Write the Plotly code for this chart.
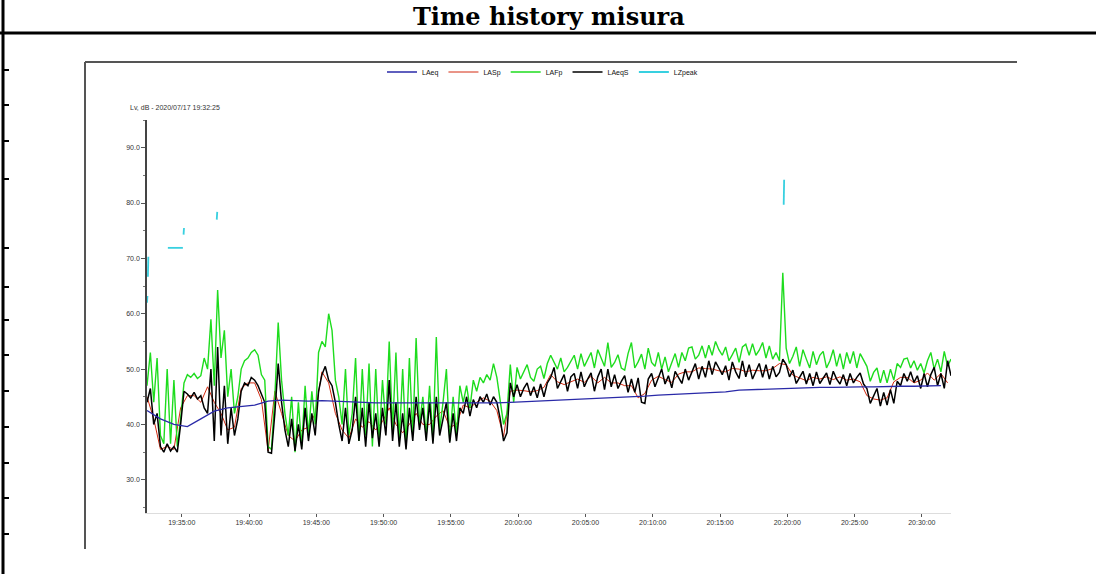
import pandas as pd
import plotly.graph_objects as go

# ---------------- data ----------------
START = "2020-07-17 19:32:25"
END = "2020-07-17 20:32:10"

# 15 s samples
green_lafp = [
    47, 53, 44, 52, 38, 36.5, 50, 36.5, 48, 36,
    41, 47.5, 49, 48.5, 49.2, 48.3, 48.8, 52, 50, 59,
    47, 64.3, 52, 57, 45, 50, 42, 45, 50, 51.5,
    52, 53, 53.5, 52.5, 49, 48, 36, 35.5, 45, 58.4,
    48, 42, 38, 45, 35, 44, 36, 47, 38, 46,
    40, 53, 55, 54, 60, 57, 48, 45, 40, 50,
    38, 42, 52, 37, 50, 38, 51, 36, 50, 37,
    48, 40, 55, 39, 53, 37, 50, 36, 52, 38,
    55.6, 40, 45, 38, 47, 37, 55.8, 39, 44, 50,
    37, 45, 38, 47, 44, 47, 43, 48, 46, 48.5,
    47.5, 49, 48, 51, 48.5, 44.5, 40, 42, 50.8, 44,
    50.3, 48.2, 49.5, 50.8, 48.5, 47.8, 50, 50.5, 48.3, 51,
    52.5, 51.2, 50, 52, 49.5, 50.3, 51.5, 52.5, 50, 52.8,
    50.5, 51.8, 53, 50.2, 53.5, 52, 50.5, 54.8, 50.3, 51.2,
    52.6, 50.2, 49.8, 52.8, 54.8, 50.2, 51.3, 52.7, 50, 53.8,
    51.2, 50.5, 53, 50, 52.2, 49.5, 51, 52.8, 50.3, 53,
    51.5, 53.8, 54, 51.8, 52.5, 54.2, 52, 54.3, 52.5, 55,
    53.5, 52.5, 54, 51.5, 52.6, 53.8, 51.2, 54, 54.5, 52.5,
    54.6, 52.5, 53.4, 54.8, 52, 54.2, 51.8, 53, 51.5, 67.4,
    53.8, 51, 52.3, 54, 50.5, 53.5, 51.8, 50.2, 53.2, 50.8,
    52.5, 53.2, 50.2, 51.5, 53.5, 50.5, 52.8, 50, 53, 51,
    53.2, 50.2, 52.8, 51.6, 50.5, 47.8, 49.4, 50.2, 47.5, 49.8,
    47.5, 50, 48, 51, 50.3, 51.8, 52, 50.2, 51.5, 49.8,
    51, 49.3, 51.5, 53, 50, 51.8, 49.5, 53.2, 50.5, 51.8,
]

black_laeqs = [
    44, 46.5, 40, 42, 36, 35, 36.5, 35.2, 36, 35,
    40, 46, 45.5, 44.8, 45.8, 44.6, 45.2, 43, 42, 50,
    37, 54, 38, 47, 36.5, 43, 38, 41, 46, 47.5,
    47, 48.5, 48, 47, 45.5, 44, 35, 34.8, 42, 51,
    44, 39, 36, 41, 35.2, 40, 35.5, 43, 37, 42,
    38, 46, 49, 50.5, 48, 47, 44, 40, 37, 43,
    36.5, 39, 45, 37, 43, 36, 44, 37.5, 42, 36,
    43, 38, 48, 37, 44, 36, 42, 35.5, 43, 37,
    45, 39, 43, 37, 44, 36.5, 45, 38, 41, 44,
    36.7, 42, 37, 43, 42, 45, 41.5, 44.5, 43, 45,
    44, 45.5, 43.5, 45, 44, 41, 37, 38.5, 47.5, 45,
    47.2, 45, 46.5, 47.5, 45.2, 46.8, 44.8, 47.3, 45, 47.5,
    48.5, 50.3, 46.5, 47.8, 49, 46, 48.6, 49.2, 46.5, 49.5,
    46.8, 48.2, 49.3, 46, 48.6, 50, 46.3, 50, 46.8, 49,
    46.5, 47.8, 48.8, 45.8, 48.2, 45.8, 48.4, 44, 43.8, 48.2,
    49.2, 46.8, 48.5, 50, 47.3, 48.8, 46.6, 49.6, 48.5, 47.4,
    50, 48, 49.5, 51, 48.2, 50.5, 48.5, 51.5, 49, 51.3,
    50.2, 49, 50.6, 48, 51.3, 49.5, 48.3, 51.5, 48.6, 50.8,
    48.2, 49.6, 51, 48.5, 50.8, 48.2, 50.5, 48.6, 49.4, 51.8,
    50.8, 48.6, 49.8, 47.4, 48.6, 49.6, 47.3, 49.2, 47, 49.5,
    47.4, 48.4, 49.3, 47.2, 49.6, 48.2, 47.3, 49, 47, 49.2,
    47.5, 48.5, 49.3, 47.3, 46.5, 43.8, 45.2, 46.5, 43.3, 45.8,
    43.5, 46.3, 43.8, 47.8, 47, 49.2, 47.8, 49.5, 47.6, 48.8,
    46.5, 49.2, 46.8, 49, 50.3, 47, 49.2, 46.5, 51.5, 48.8,
]

# 30 s samples
red_lasp = [
    45, 41, 35.5, 36, 35.5, 43, 45.2, 45.2, 44, 46.8,
    44, 42, 39, 39.5, 46.5, 47.5, 47.5, 44.5, 35.2, 46,
    42, 38, 37, 39, 39.5, 42, 49.5, 47.5, 42, 39,
    37.5, 41, 39.5, 40.5, 39, 40.5, 43, 40, 38.5, 40,
    42, 40, 40, 41.5, 42.5, 39.5, 40, 43.5, 43, 44,
    44.8, 44.2, 42.5, 37.8, 46, 46.2, 46.1, 45.9, 46.1, 46.7,
    49, 47.7, 47.2, 47.7, 48.2, 47.6, 48.7, 47.5, 48.5, 47.5,
    47.5, 47, 47, 44.8, 45.6, 48, 48.7, 48.1, 47.6, 49.1,
    49.5, 49.5, 50.2, 50.1, 50, 49.7, 49.5, 50.1, 50, 49.5,
    49.8, 49.7, 49.7, 50.1, 51, 50.8, 48.9, 48.4, 47.9, 48.5,
    48.2, 48.6, 48.1, 48.6, 48, 48.2, 47.7, 45.2, 44.6, 44.4,
    44.8, 47.7, 48.5, 48.5, 47.5, 48, 49.3, 48, 49.2, 47.5,
]

# 60 s samples
blue_laeq = [
    42.5, 41, 40, 39.6, 41, 42.4, 43, 43.2, 43.5, 44.2,
    44.4, 44.3, 44.2, 44.3, 44.2, 44.0, 44.0, 43.9, 43.9, 43.9,
    43.8, 43.8, 43.8, 43.8, 43.9, 43.9, 43.9, 44.0, 44.1, 44.2,
    44.3, 44.4, 44.5, 44.7, 44.8, 44.9, 45.0, 45.1, 45.3, 45.4,
    45.5, 45.6, 45.7, 45.9, 46.2, 46.3, 46.4, 46.5, 46.6, 46.6,
    46.7, 46.7, 46.8, 46.8, 46.8, 46.9, 46.9, 46.9, 47.0, 47.0,
]

# sparse LZpeak segments (None = gap)
lz_times = [
    "19:32:25", "19:32:27", "19:32:28", "19:32:29", "19:32:31", "19:32:32",
    "19:33:58", "19:35:05", "19:35:06", "19:35:08", "19:35:10", "19:35:11",
    "19:37:36", "19:37:38", "19:37:39", "20:19:44", "20:19:46",
]
lz_peak = [
    62.0, 63.2, None, 66.7, 70.3, None,
    71.9, 71.9, None, 74.3, 75.5, None,
    77.0, 78.4, None, 79.7, 84.2,
]

x_ticks = ["19:35:00", "19:40:00", "19:45:00", "19:50:00", "19:55:00", "20:00:00",
           "20:05:00", "20:10:00", "20:15:00", "20:20:00", "20:25:00", "20:30:00"]
y_ticks = [30, 40, 50, 60, 70, 80, 90]
y_ticktext = ["30.0", "40.0", "50.0", "60.0", "70.0", "80.0", "90.0"]

series_names = ["LAeq", "LASp", "LAFp", "LAeqS", "LZpeak"]

t15 = pd.date_range(START, periods=len(green_lafp), freq="15s")
t30 = pd.date_range(START, periods=len(red_lasp), freq="30s")
t60 = pd.date_range(START, periods=len(blue_laeq), freq="60s")
tlz = ["2020-07-17 " + t for t in lz_times]
tick_dates = ["2020-07-17 " + t for t in x_ticks]

# ---------------- layout helpers ----------------
W, H = 1096, 574
L, R, T, B = 147, 145, 120, 61
PW, PH = W - L - R, H - T - B


def fx(px):
    return (px - L) / PW


def fy(py):
    return (H - B - py) / PH


fig = go.Figure()
fig.add_trace(go.Scatter(x=t30, y=red_lasp, mode="lines", name=series_names[1],
                         line=dict(color="#d42a10", width=1.0), legendrank=2))
fig.add_trace(go.Scatter(x=t15, y=green_lafp, mode="lines", name=series_names[2],
                         line=dict(color="#1edc1e", width=1.4), legendrank=3))
fig.add_trace(go.Scatter(x=t15, y=black_laeqs, mode="lines", name=series_names[3],
                         line=dict(color="#000000", width=1.5), legendrank=4))
fig.add_trace(go.Scatter(x=t60, y=blue_laeq, mode="lines", name=series_names[0],
                         line=dict(color="#2a2aa8", width=1.3), legendrank=1))
fig.add_trace(go.Scatter(x=tlz, y=lz_peak, mode="lines", name=series_names[4],
                         connectgaps=False,
                         line=dict(color="#38d0e0", width=1.8), legendrank=5))

shapes = []
# document table frame
shapes.append(dict(type="line", xref="paper", yref="paper", x0=fx(3), x1=fx(3),
                   y0=fy(0), y1=fy(H), line=dict(color="black", width=3)))
shapes.append(dict(type="line", xref="paper", yref="paper", x0=fx(0), x1=fx(W),
                   y0=fy(33), y1=fy(33), line=dict(color="black", width=3)))
for yy in [70, 105, 141, 179, 248, 287, 320, 355, 391, 427, 463, 498, 534]:
    shapes.append(dict(type="line", xref="paper", yref="paper", x0=fx(3), x1=fx(9),
                       y0=fy(yy), y1=fy(yy), line=dict(color="black", width=2)))
# embedded picture border
shapes.append(dict(type="line", xref="paper", yref="paper", x0=fx(85), x1=fx(85),
                   y0=fy(62), y1=fy(549), line=dict(color="#555555", width=2)))
shapes.append(dict(type="line", xref="paper", yref="paper", x0=fx(85), x1=fx(1017),
                   y0=fy(62), y1=fy(62), line=dict(color="#555555", width=2)))

annotations = [
    dict(text="<b>Time history misura</b>", xref="paper", yref="paper",
         x=fx(549), y=fy(16), xanchor="center", yanchor="middle", showarrow=False,
         font=dict(family="DejaVu Serif", size=24, color="black")),
    dict(text="Lv, dB - 2020/07/17 19:32:25", xref="paper", yref="paper",
         x=fx(128), y=fy(107), xanchor="left", yanchor="middle", showarrow=False,
         font=dict(family="Liberation Sans", size=7, color="#333333")),
]

fig.update_layout(
    width=W, height=H,
    margin=dict(l=L, r=R, t=T, b=B, pad=0),
    paper_bgcolor="white", plot_bgcolor="white",
    shapes=shapes, annotations=annotations,
    showlegend=True,
    legend=dict(orientation="h", x=fx(382), y=fy(72), xanchor="left", yanchor="middle",
                font=dict(family="Liberation Sans", size=7, color="#111111"),
                bgcolor="rgba(0,0,0,0)", itemwidth=30, tracegroupgap=0),
    xaxis=dict(type="date", range=[START, END], showgrid=False, zeroline=False,
               showline=True, linecolor="#dddddd", linewidth=1,
               ticks="outside", ticklen=3, tickcolor="#555555",
               tickvals=tick_dates, tickformat="%H:%M:%S",
               tickfont=dict(family="Liberation Sans", size=7, color="#333333")),
    yaxis=dict(range=[24, 95], showgrid=False, zeroline=False,
               showline=True, linecolor="#444444", linewidth=1.5,
               ticks="outside", ticklen=4, tickcolor="#555555",
               tickvals=y_ticks, ticktext=y_ticktext,
               minor=dict(ticks="outside", ticklen=2, tickcolor="#777777", dtick=5, tick0=25),
               tickfont=dict(family="Liberation Sans", size=7, color="#333333")),
)

fig.write_html("out.html")
